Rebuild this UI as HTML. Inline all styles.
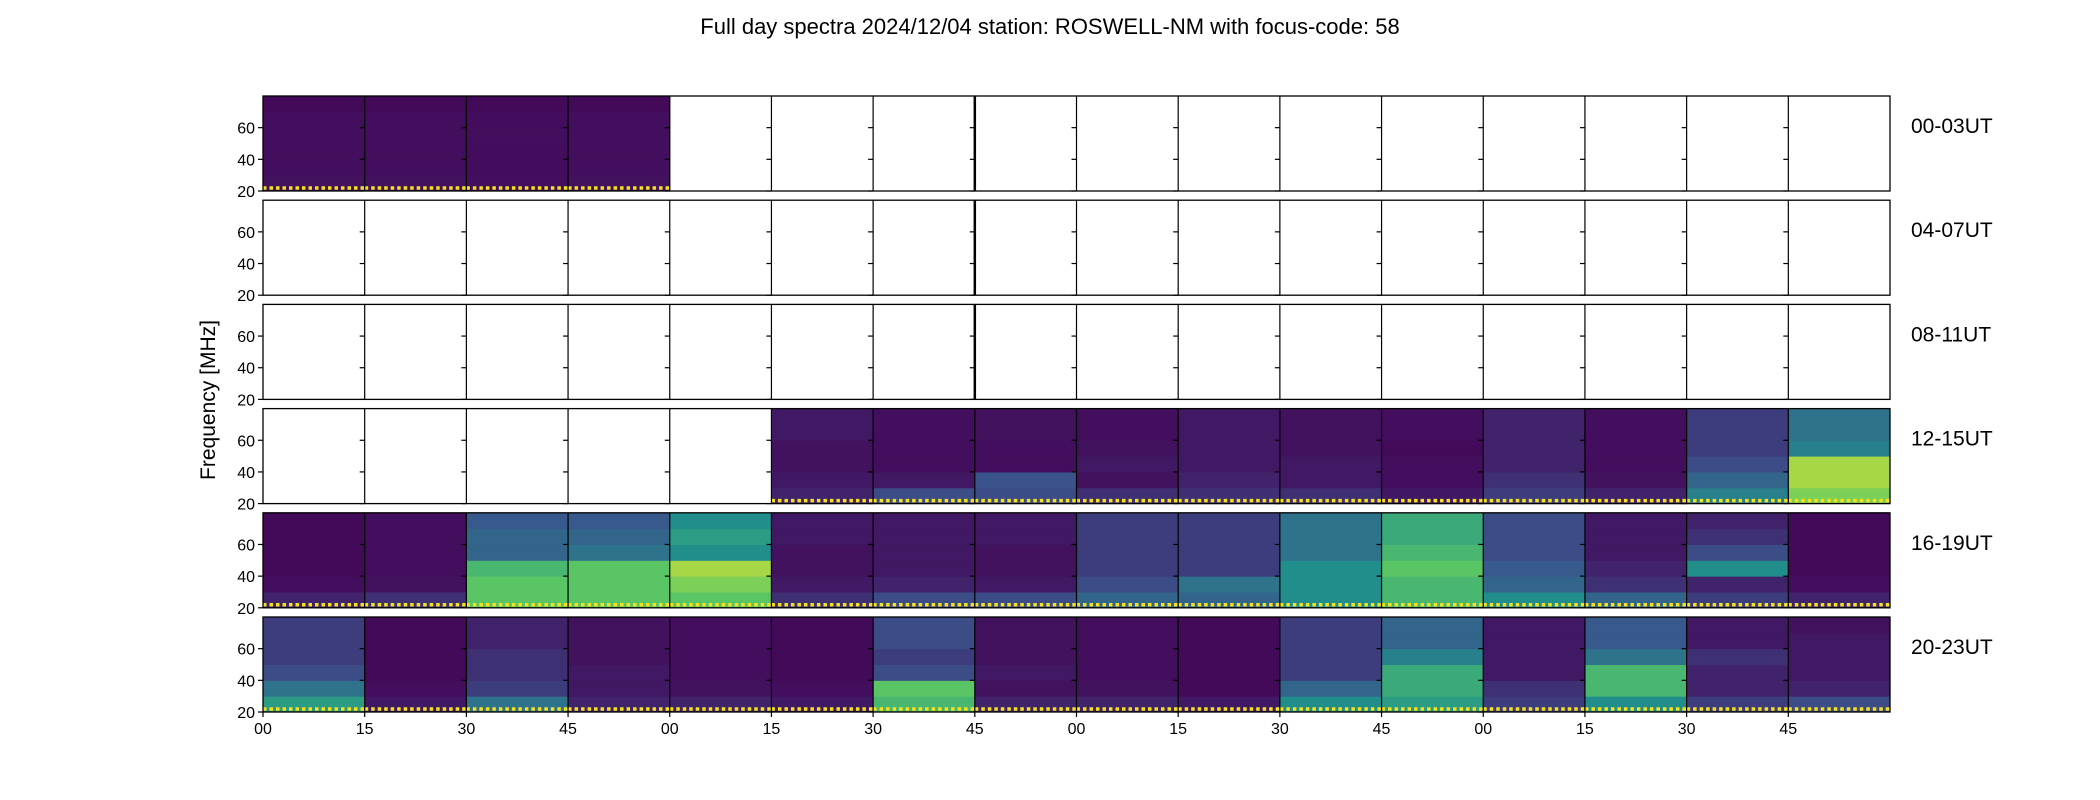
<!DOCTYPE html>
<html><head><meta charset="utf-8">
<style>
html,body{margin:0;padding:0;background:#fff;}
svg{display:block;font-family:"Liberation Sans","DejaVu Sans",sans-serif;}
</style></head>
<body>
<svg id="chart" width="2100" height="800" viewBox="0 0 2100 800" xmlns="http://www.w3.org/2000/svg">
<text x="1050" y="34" text-anchor="middle" font-size="22" fill="#000">Full day spectra 2024/12/04 station: ROSWELL-NM with focus-code: 58</text>
<text transform="translate(215,400) rotate(-90)" text-anchor="middle" font-size="21" fill="#000">Frequency [MHz]</text>
<g id="panels"></g>
</svg>
<script>
const rowLabels = ["00-03UT","04-07UT","08-11UT","12-15UT","16-19UT","20-23UT"];
const xTickLabels = ["00","15","30","45","00","15","30","45","00","15","30","45","00","15","30","45"];
const yTicks = [20,40,60];
const freqMin = 20, freqMax = 80;
const bandEdges = [20,30,40,50,60,70,80];
// band intensities (0..1) per panel, bands bottom->top; null = no data
const row0 = [[0.12,0.1,0.1,0.1,0.1,0.08],[0.12,0.1,0.1,0.1,0.1,0.08],[0.1,0.09,0.09,0.1,0.09,0.08],[0.12,0.1,0.1,0.1,0.1,0.08],null,null,null,null,null,null,null,null,null,null,null,null];
const row1 = [null,null,null,null,null,null,null,null,null,null,null,null,null,null,null,null];
const row2 = [null,null,null,null,null,null,null,null,null,null,null,null,null,null,null,null];
const row3 = [null,null,null,null,null,[0.2,0.15,0.12,0.12,0.15,0.15],[0.35,0.15,0.1,0.1,0.1,0.1],[0.35,0.38,0.1,0.1,0.12,0.12],[0.25,0.12,0.15,0.12,0.1,0.1],[0.25,0.2,0.15,0.15,0.15,0.15],[0.25,0.15,0.15,0.12,0.12,0.12],[0.15,0.1,0.1,0.08,0.1,0.1],[0.3,0.25,0.2,0.2,0.2,0.2],[0.2,0.12,0.1,0.1,0.1,0.1],[0.55,0.45,0.35,0.3,0.3,0.3],[0.85,0.9,0.9,0.55,0.5,0.5]];
const row4 = [[0.2,0.1,0.08,0.08,0.08,0.08],[0.25,0.12,0.1,0.1,0.1,0.1],[0.8,0.8,0.75,0.45,0.45,0.4],[0.8,0.8,0.8,0.5,0.45,0.4],[0.8,0.85,0.9,0.6,0.65,0.6],[0.25,0.15,0.12,0.12,0.15,0.15],[0.35,0.2,0.15,0.15,0.15,0.15],[0.35,0.15,0.12,0.12,0.15,0.15],[0.45,0.35,0.3,0.3,0.3,0.3],[0.45,0.5,0.3,0.3,0.3,0.3],[0.6,0.6,0.6,0.5,0.5,0.5],[0.75,0.75,0.8,0.75,0.7,0.7],[0.6,0.45,0.4,0.35,0.35,0.35],[0.45,0.25,0.2,0.15,0.15,0.15],[0.3,0.2,0.6,0.35,0.25,0.2],[0.2,0.1,0.08,0.08,0.08,0.08]];
const row5 = [[0.65,0.5,0.35,0.3,0.3,0.3],[0.15,0.1,0.08,0.08,0.08,0.08],[0.5,0.3,0.25,0.25,0.2,0.2],[0.2,0.15,0.15,0.12,0.12,0.12],[0.2,0.12,0.1,0.1,0.1,0.1],[0.15,0.1,0.08,0.08,0.08,0.08],[0.75,0.8,0.35,0.3,0.35,0.35],[0.2,0.12,0.15,0.12,0.12,0.12],[0.2,0.12,0.1,0.1,0.1,0.1],[0.15,0.08,0.08,0.08,0.08,0.08],[0.6,0.45,0.3,0.3,0.3,0.3],[0.65,0.7,0.7,0.55,0.45,0.45],[0.3,0.25,0.15,0.15,0.15,0.15],[0.6,0.75,0.75,0.5,0.4,0.4],[0.3,0.2,0.2,0.25,0.15,0.15],[0.35,0.2,0.15,0.15,0.15,0.12]];
const rows = [row0,row1,row2,row3,row4,row5];

const gridLeft = 263, gridRight = 1890, rowTop0 = 96, rowPitch = 104.2, rowH = 95;
const colW = (gridRight-gridLeft)/16;
const NS = "http://www.w3.org/2000/svg";
const root = document.getElementById('panels');
const vir = [[68,1,84],[59,82,139],[33,145,140],[94,201,98],[253,231,37]];
function cmap(v){v=Math.pow(Math.max(0,Math.min(1,v)),1.4);const t=v*4;const i=Math.min(3,Math.floor(t));const f=t-i;const a=vir[i],b=vir[i+1];return `rgb(${Math.round(a[0]+(b[0]-a[0])*f)},${Math.round(a[1]+(b[1]-a[1])*f)},${Math.round(a[2]+(b[2]-a[2])*f)})`;}
function mk(tag,attrs){const e=document.createElementNS(NS,tag);for(const k in attrs)e.setAttribute(k,attrs[k]);return e;}
function xCol(c){return gridLeft+c*colW;}
function yF(r,f){return rowTop0+r*rowPitch+rowH-(f-freqMin)/(freqMax-freqMin)*rowH;}

rows.forEach((row,r)=>{
  const top = rowTop0+r*rowPitch;
  row.forEach((bands,c)=>{
    const x = xCol(c);
    const g = mk('g',{});
    
    
    if(bands){
      bands.forEach((v,b)=>{
        const y1=yF(r,bandEdges[b+1]), y0=yF(r,bandEdges[b]);
        const rc = mk('rect',{x:x,y:y1,width:colW+0.5,height:y0-y1+0.5,fill:cmap(v)});
        
        
        g.appendChild(rc);
      });
      const dl = mk('line',{x1:x,x2:x+colW,y1:top+rowH-3,y2:top+rowH-3,stroke:'#f5e21f','stroke-width':3.5,'stroke-dasharray':'3.5 3'});
      
      
      g.appendChild(dl);
    }
    root.appendChild(g);
  });
  const fr = mk('rect',{x:gridLeft,y:top,width:gridRight-gridLeft,height:rowH,fill:'none',stroke:'#000','stroke-width':1.3});
  
  
  root.appendChild(fr);
  for(let c=1;c<16;c++){
    const x=xCol(c);
    const ln=mk('line',{x1:x,x2:x,y1:top,y2:top+rowH,stroke:'#000','stroke-width':c===7&&r<3?2.5:1.2});
    
    
    root.appendChild(ln);
  }
  for(let c=0;c<16;c++){
    yTicks.forEach(t=>{
      const y=yF(r,t);
      const tk=mk('line',{x1:xCol(c)-5,x2:xCol(c),y1:y,y2:y,stroke:'#000','stroke-width':1.2});
      
      
      root.appendChild(tk);
    });
  }
  yTicks.forEach(t=>{
    const tl=mk('text',{x:gridLeft-8,y:yF(r,t)+6,'text-anchor':'end','font-size':16,fill:'#000'});
    tl.textContent=t;
    
    
    root.appendChild(tl);
  });
  const rl=mk('text',{x:1911,y:top+37,'font-size':21,fill:'#000'});
  rl.textContent=rowLabels[r];
  
  
  root.appendChild(rl);
});
const lastBottom = rowTop0+5*rowPitch+rowH;
xTickLabels.forEach((lab,c)=>{
  const x=xCol(c);
  const tk=mk('line',{x1:x,x2:x,y1:lastBottom,y2:lastBottom+5,stroke:'#000','stroke-width':1.2});
  
  
  root.appendChild(tk);
  const t=mk('text',{x:x,y:lastBottom+22,'text-anchor':'middle','font-size':16,fill:'#000'});
  t.textContent=lab;
  
  
  root.appendChild(t);
});
</script>
</body></html>
